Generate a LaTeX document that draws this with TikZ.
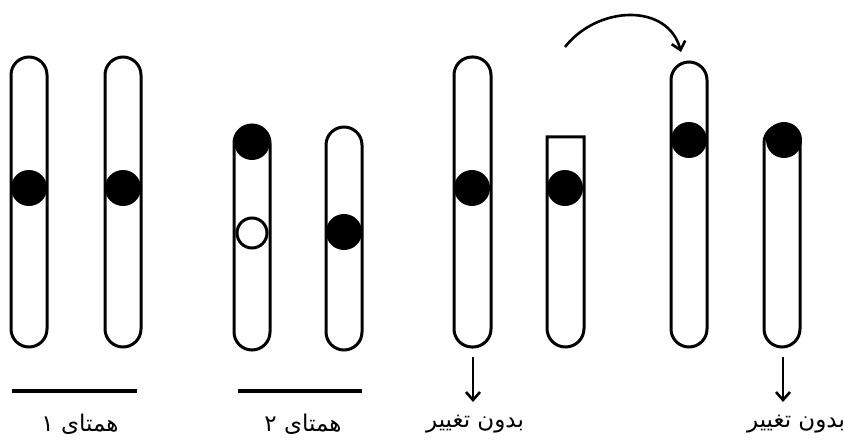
\documentclass[tikz,border=0pt]{standalone}
\usepackage{fontspec}
\newfontfamily\farsi[Script=Arabic]{DejaVu Sans}
\TeXXeTstate=1
\usetikzlibrary{arrows.meta}

\begin{document}
\begin{tikzpicture}[
            x = 1pt, y = 1pt,
            > = {Straight Barb[length=8pt,width=14pt,line width=2.6pt]}, % arrow head style
            chrom/.style = {line width=3pt, rounded corners=18pt}, % chromosome outline
            cent/.style = {circle, fill=black, minimum size=36pt, inner sep=0pt}, % centromere
            hollow/.style = {circle, draw, line width=3pt, fill=white, minimum size=30pt, inner sep=0pt},
            lbl/.style = {font=\farsi\fontsize{23}{26}\selectfont, inner sep=1pt}
        ]
    \useasboundingbox (0,0) rectangle (844,-441);

    % homolog 1
    \draw[chrom] (11,-57) rectangle (47,-347);
    \draw[chrom] (105,-57) rectangle (141,-347);
    \node[cent] (c1) at (29,-188) {};
    \node[cent] (c2) at (123,-188) {};

    % homolog 2
    \draw[chrom] (234,-125) rectangle (270,-350);
    \draw[chrom] (326,-127) rectangle (362,-350);
    \node[cent] (c3) at (252,-142) {};
    \node[hollow] (h3) at (252,-233) {};
    \node[cent] (c4) at (344,-232) {};

    % unchanged pair
    \draw[chrom] (454,-57) rectangle (491,-347);
    \draw[line width=3pt] (547,-137) -- (584,-137) -- (584,-328.5)
        arc(0:-180:18.5) -- cycle;
    \node[cent] (c5) at (472,-188) {};
    \node[cent] (c6) at (565,-188) {};

    % moved centromere
    \draw[chrom] (671,-62) rectangle (707,-347);
    \draw[chrom] (764,-125) rectangle (800,-347);
    \node[cent] (c7) at (689,-140) {};
    \node[cent] (c8) at (784,-140) {};

    \coordinate (s) at (565,-47);
    \coordinate (e) at (681,-52);
    \draw[->, line width=2.6pt] (s) .. controls (598,-5) and (668,-3) .. (e);

    % bottom labels
    \draw[line width=3.2pt] (12,-391) -- (137,-391);
    \draw[line width=3.2pt] (238,-391) -- (362,-391);
    \node[lbl] (l1) at (80,-424) {\beginR همتای ۱\endR};
    \node[lbl] (l2) at (303,-424) {\beginR همتای ۲\endR};

    \node[lbl] (l3) at (475,-424) {\beginR بدون تغییر\endR};
    \node[lbl] (l4) at (796,-424) {\beginR بدون تغییر\endR};
    \coordinate (d1) at (473,-357);
    \coordinate (d2) at (783,-357);
    \coordinate (t1) at (473,-402);
    \coordinate (t2) at (783,-402);
    \draw[->, line width=2.6pt] (d1) -- (t1);
    \draw[->, line width=2.6pt] (d2) -- (t2);

\end{tikzpicture}
\end{document}
